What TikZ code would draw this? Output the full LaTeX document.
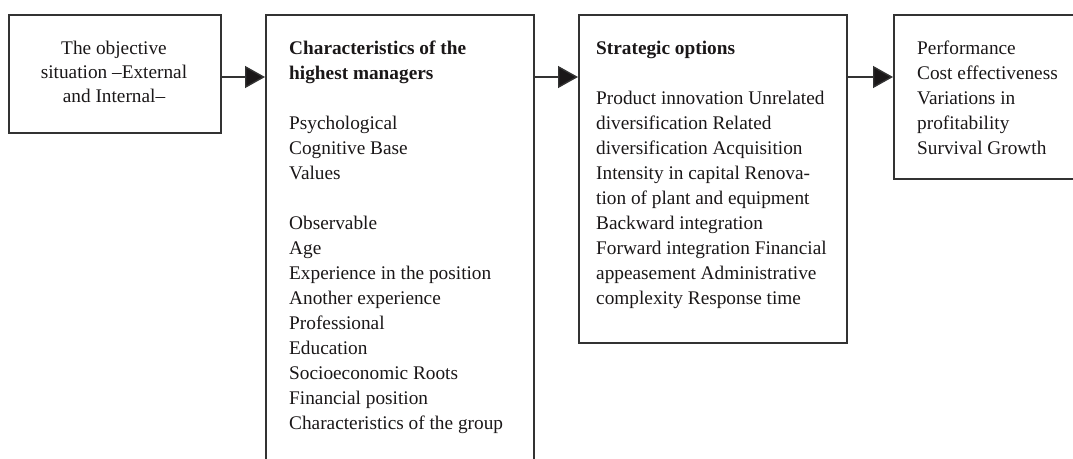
\documentclass[tikz,border=0pt]{standalone}
\usepackage{fontspec}
\setmainfont{Liberation Serif}
\usetikzlibrary{arrows.meta}
\definecolor{rule}{HTML}{333333}
\definecolor{ink}{HTML}{1A1718}
\begin{document}
\begin{tikzpicture}[x=1pt,y=-1pt,
  panel/.style={draw=rule, line width=1.6pt, inner sep=0pt, anchor=north west},
  txt/.style={inner sep=0pt, text=ink, font=\fontsize{19.3}{25}\selectfont},
  arr/.style={draw=rule, line width=1.4pt, -{Triangle[length=20pt,width=22pt,fill=ink]}}]
\useasboundingbox (0,0) rectangle (1073,458);

% the four panels
\node[panel, minimum width=212pt, minimum height=118pt] (b1) at (8,14) {};
\node[panel, minimum width=268pt, minimum height=470pt] (b2) at (265,14) {};
\node[panel, minimum width=268pt, minimum height=328pt] (b3) at (578,14) {};
\node[panel, minimum width=190pt, minimum height=164pt] (b4) at (893,14) {};

% panel texts
\node[txt, anchor=base, font=\fontsize{19.3}{24}\selectfont] (t1) at (114,54)
  {\parbox[t]{200pt}{\centering The objective\\ situation –External\\ and Internal–}};

\node[txt, anchor=base west] (t2) at (289,54)
  {\parbox[t]{240pt}{\raggedright
   \textbf{Characteristics of the}\\
   \textbf{highest managers}\\[25pt]
   Psychological\\
   Cognitive Base\\
   Values\\[25pt]
   Observable\\
   Age\\
   Experience in the position\\
   Another experience\\
   Professional\\
   Education\\
   Socioeconomic Roots\\
   Financial position\\
   Characteristics of the group}};

\node[txt, anchor=base west] (t3) at (596,54)
  {\parbox[t]{245pt}{\raggedright
   \textbf{Strategic options}\\[25pt]
   Product innovation Unrelated\\
   diversification Related\\
   diversification Acquisition\\
   Intensity in capital Renova-\\
   tion of plant and equipment\\
   Backward integration\\
   Forward integration Financial\\
   appeasement Administrative\\
   complexity Response time}};

\node[txt, anchor=base west] (t4) at (917,54)
  {\parbox[t]{150pt}{\raggedright
   Performance\\
   Cost effectiveness\\
   Variations in\\
   profitability\\
   Survival Growth}};

% connectors
\draw[arr] (b1.east |- 0,77) -- (b2.west |- 0,77);
\draw[arr] (b2.east |- 0,77) -- (b3.west |- 0,77);
\draw[arr] (b3.east |- 0,77) -- (b4.west |- 0,77);
\end{tikzpicture}
\end{document}
